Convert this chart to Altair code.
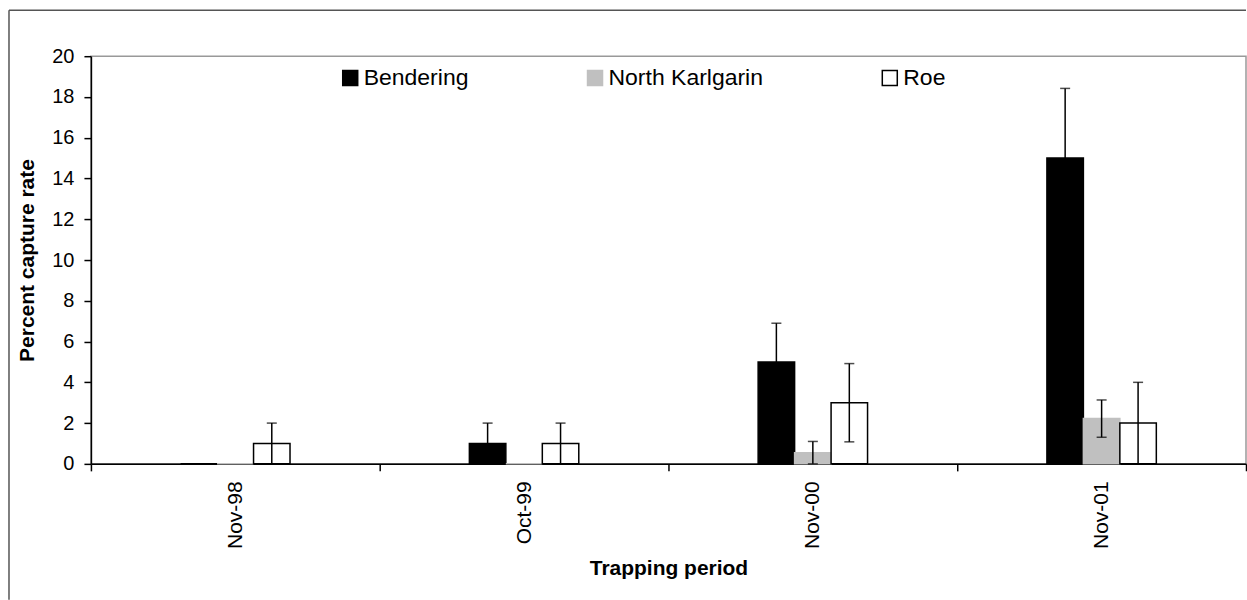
import altair as alt
import pandas as pd

# Trapping periods and sites
periods = ["Nov-98", "Oct-99", "Nov-00", "Nov-01"]
sites = ["Bendering", "North Karlgarin", "Roe"]

# Mean percent capture rate and standard error per site
bendering = [0, 1, 5, 15]
bendering_se = [0, 1, 1.9, 3.42]
karlgarin = [0, 0, 0.55, 2.22]
karlgarin_se = [0, 0, 0.55, 0.915]
roe = [1, 1, 3, 2]
roe_se = [1, 1, 1.92, 2]

y_ticks = [0, 2, 4, 6, 8, 10, 12, 14, 16, 18, 20]

fills = ["#000000", "#c0c0c0", "#ffffff"]
strokes = ["#000000", "#c0c0c0", "#000000"]

rows = []
for site, vals, ses in [("Bendering", bendering, bendering_se),
                        ("North Karlgarin", karlgarin, karlgarin_se),
                        ("Roe", roe, roe_se)]:
    for p, v, s in zip(periods, vals, ses):
        rows.append({"period": p, "site": site, "rate": v,
                     "se": s, "lo": max(v - s, 0), "hi": v + s})
df = pd.DataFrame(rows)
err = df[df["se"] > 0]
caps = pd.concat([err.assign(cap=err["hi"]), err.assign(cap=err["lo"])])

W, H = 1156, 408
STEP = W / len(periods)
GROUP = 109.5  # width of the three bars in one period
FONT = "Liberation Sans"

x_enc = alt.X("period:N", sort=periods,
              scale=alt.Scale(paddingInner=0, paddingOuter=0),
              axis=alt.Axis(title="Trapping period", labelAngle=-90,
                            tickBand="extent", tickSize=7, tickWidth=1.5,
                            tickColor="black", domainColor="black",
                            domainWidth=1.5, labelFontSize=21,
                            labelColor="black", labelPadding=10,
                            titleFontSize=21, titleFontWeight="bold",
                            titleColor="black", titlePadding=9))
off_scale = alt.Scale(paddingInner=0, paddingOuter=0,
                      range=[(STEP - GROUP) / 2, (STEP + GROUP) / 2])
xoff = alt.XOffset("site:N", sort=sites, scale=off_scale)
y_scale = alt.Scale(domain=[0, 20], nice=False)

legend = alt.Legend(title=None, orient="none", legendX=248, legendY=10,
                    direction="horizontal", symbolType="square",
                    symbolSize=225, symbolStrokeWidth=1.5,
                    labelFontSize=23, labelColor="black", labelOffset=2,
                    columnPadding=115, padding=0)

# Outer border of the figure: top and left edges
edge = pd.DataFrame({"k": [0]})
frame_top = alt.Chart(edge).mark_rule(color="#555555", strokeWidth=1.5).encode(
    x=alt.value(-82), x2=alt.value(W), y=alt.value(-46))
frame_left = alt.Chart(edge).mark_rule(color="#555555", strokeWidth=1.5).encode(
    x=alt.value(-82), y=alt.value(-46), y2=alt.value(H + 136))

bars = alt.Chart(df).mark_bar(strokeWidth=1.5).encode(
    x=x_enc,
    xOffset=xoff,
    y=alt.Y("rate:Q", scale=y_scale,
            axis=alt.Axis(title="Percent capture rate", values=y_ticks,
                          grid=False, tickSize=7, tickWidth=1.5,
                          tickColor="black", domainColor="black",
                          domainWidth=1.5, labelFontSize=20,
                          labelColor="black", labelPadding=10,
                          titleFontSize=21, titleFontWeight="bold",
                          titleColor="black", titlePadding=14)),
    fill=alt.Fill("site:N", sort=sites,
                  scale=alt.Scale(domain=sites, range=fills), legend=legend),
    stroke=alt.Stroke("site:N", sort=sites,
                      scale=alt.Scale(domain=sites, range=strokes),
                      legend=legend),
)

whiskers = alt.Chart(err).mark_rule(color="black", strokeWidth=1.5).encode(
    x=alt.X("period:N", sort=periods),
    xOffset=alt.XOffset("site:N", sort=sites),
    y=alt.Y("lo:Q", scale=y_scale),
    y2="hi:Q",
)

cap_marks = alt.Chart(caps).mark_tick(
    color="black", thickness=1.5, size=10, orient="horizontal"
).encode(
    x=alt.X("period:N", sort=periods),
    xOffset=alt.XOffset("site:N", sort=sites),
    y=alt.Y("cap:Q", scale=y_scale),
)

chart = alt.layer(frame_top, frame_left, bars, whiskers, cap_marks).properties(
    width=W, height=H,
    padding={"left": 8, "top": 9, "right": 0, "bottom": 0},
).configure(font=FONT).configure_view(stroke="#999999", strokeWidth=1.5)

chart.save("out.html", embed_options={"renderer": "svg", "actions": False})
